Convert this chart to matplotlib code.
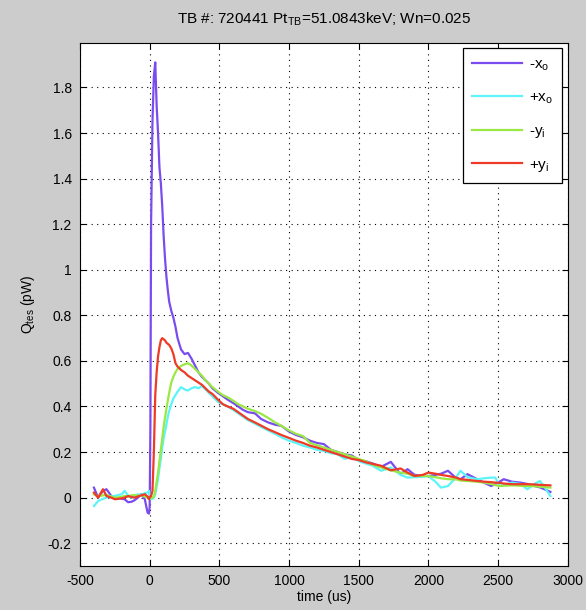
import matplotlib
matplotlib.use("Agg")
import matplotlib.pyplot as plt

# time axis (us), shared by all four traces
time_us = [
    -400, -370, -335, -310, -275, -250, -200, -180, -155, -130,
    -110, -85, -60, -35, -15, -5, 0, 5, 10, 20,
    30, 40, 50, 60, 70, 80, 90, 100, 110, 120,
    130, 140, 155, 170, 185, 200, 225, 250, 275, 300,
    325, 350, 375, 400, 425, 450, 490, 525, 560, 600,
    635, 670, 705, 755, 800, 850, 900, 945, 1000, 1050,
    1100, 1150, 1200, 1250, 1300, 1350, 1400, 1450, 1500, 1550,
    1600, 1660, 1730, 1800, 1850, 1900, 1960, 2000, 2050, 2090,
    2140, 2200, 2230, 2280, 2350, 2400, 2450, 2480, 2510, 2540,
    2600, 2660, 2710, 2760, 2800, 2840, 2875,
]

q_minus_xo = [
    0.044, 0.0, 0.03, 0.037, 0.007, 0.0, -0.005, -0.007, -0.02, -0.018,
    -0.012, 0.0, 0.015, -0.007, -0.066, -0.07, -0.04, 0.3, 1.2, 1.65,
    1.85, 1.91, 1.72, 1.6, 1.45, 1.38, 1.28, 1.15, 1.05, 0.97,
    0.91, 0.86, 0.82, 0.79, 0.75, 0.70, 0.65, 0.63, 0.635, 0.61,
    0.58, 0.55, 0.53, 0.515, 0.50, 0.48, 0.46, 0.445, 0.43, 0.415,
    0.40, 0.385, 0.375, 0.37, 0.345, 0.33, 0.32, 0.315, 0.29, 0.275,
    0.265, 0.25, 0.24, 0.235, 0.21, 0.20, 0.19, 0.185, 0.165, 0.16,
    0.15, 0.135, 0.157, 0.103, 0.125, 0.10, 0.095, 0.095, 0.10, 0.105,
    0.118, 0.085, 0.081, 0.103, 0.081, 0.065, 0.051, 0.06, 0.07, 0.081,
    0.07, 0.066, 0.06, 0.051, 0.045, 0.035, 0.025,
]

q_plus_xo = [
    -0.037, -0.015, -0.005, 0.0, 0.005, 0.008, 0.015, 0.03, 0.01, 0.0,
    0.005, 0.015, 0.012, 0.02, 0.022, 0.03, 0.015, 0.005, -0.007, -0.005,
    0.0, 0.015, 0.05, 0.08, 0.13, 0.17, 0.22, 0.26, 0.29, 0.32,
    0.355, 0.38, 0.41, 0.435, 0.45, 0.465, 0.485, 0.475, 0.47, 0.48,
    0.485, 0.48, 0.49, 0.475, 0.46, 0.445, 0.42, 0.41, 0.40, 0.385,
    0.37, 0.355, 0.34, 0.325, 0.31, 0.295, 0.28, 0.265, 0.25, 0.24,
    0.228, 0.22, 0.21, 0.205, 0.195, 0.19, 0.17, 0.18, 0.16, 0.15,
    0.14, 0.118, 0.132, 0.10, 0.088, 0.09, 0.092, 0.095, 0.07, 0.044,
    0.051, 0.09, 0.118, 0.09, 0.081, 0.085, 0.088, 0.088, 0.051, 0.055,
    0.066, 0.06, 0.037, 0.06, 0.073, 0.04, 0.007,
]

q_minus_yi = [
    0.015, 0.005, 0.01, 0.012, 0.005, 0.0, 0.003, 0.008, 0.005, 0.01,
    0.012, 0.008, 0.01, 0.005, 0.0, 0.002, 0.0, -0.003, 0.0, 0.0,
    0.005, 0.03, 0.07, 0.11, 0.16, 0.21, 0.26, 0.31, 0.35, 0.39,
    0.425, 0.46, 0.505, 0.53, 0.55, 0.565, 0.578, 0.585, 0.59, 0.58,
    0.565, 0.55, 0.535, 0.515, 0.50, 0.485, 0.465, 0.45, 0.44, 0.425,
    0.41, 0.40, 0.39, 0.38, 0.368, 0.35, 0.33, 0.315, 0.295, 0.28,
    0.27, 0.24, 0.23, 0.22, 0.21, 0.20, 0.19, 0.18, 0.17, 0.16,
    0.145, 0.132, 0.12, 0.11, 0.105, 0.095, 0.095, 0.095, 0.09, 0.085,
    0.081, 0.08, 0.075, 0.073, 0.07, 0.066, 0.06, 0.055, 0.051, 0.052,
    0.054, 0.052, 0.051, 0.05, 0.048, 0.046, 0.044,
]

q_plus_yi = [
    0.022, 0.0, 0.037, 0.007, 0.0, -0.007, -0.003, 0.0, 0.007, 0.003,
    0.0, 0.005, 0.01, 0.015, 0.005, -0.007, 0.0, 0.005, 0.007, 0.03,
    0.2, 0.45, 0.55, 0.62, 0.66, 0.69, 0.70, 0.695, 0.69, 0.68,
    0.675, 0.67, 0.655, 0.63, 0.59, 0.575, 0.56, 0.55, 0.535, 0.525,
    0.515, 0.505, 0.495, 0.48, 0.465, 0.455, 0.43, 0.41, 0.40, 0.39,
    0.375, 0.36, 0.345, 0.33, 0.316, 0.30, 0.287, 0.275, 0.262, 0.25,
    0.24, 0.228, 0.22, 0.21, 0.20, 0.19, 0.18, 0.17, 0.165, 0.155,
    0.148, 0.14, 0.12, 0.128, 0.11, 0.095, 0.10, 0.11, 0.105, 0.10,
    0.095, 0.088, 0.081, 0.078, 0.073, 0.07, 0.068, 0.066, 0.065, 0.062,
    0.059, 0.059, 0.059, 0.058, 0.056, 0.055, 0.054,
]

labels = ['-x$_\\mathregular{o}$', '+x$_\\mathregular{o}$',
          '-y$_\\mathregular{i}$', '+y$_\\mathregular{i}$']
colors = ['#7a4cf0', '#5cf4f8', '#9ae844', '#ee3a26']

x_ticks = [-500, 0, 500, 1000, 1500, 2000, 2500, 3000]
y_ticks = [-0.2, 0, 0.2, 0.4, 0.6, 0.8, 1, 1.2, 1.4, 1.6, 1.8]
y_ticklabels = ['-0.2', '0', '0.2', '0.4', '0.6', '0.8', '1', '1.2', '1.4', '1.6', '1.8']
x_ticklabels = [str(v) for v in x_ticks]

plt.rcParams['font.family'] = ['Liberation Sans', 'DejaVu Sans']
plt.rcParams['font.size'] = 10

fig = plt.figure(figsize=(5.86, 6.10), dpi=100, facecolor='#cccccc')
ax = fig.add_axes([0.1365, 0.0721, 0.8325, 0.8574])

series = [q_minus_xo, q_plus_xo, q_minus_yi, q_plus_yi]
for q, lab, col in zip(series, labels, colors):
    ax.plot(time_us, q, color=col, lw=1.6, label=lab)

ax.set_xlim(-500, 3000)
ax.set_ylim(-0.3, 1.995)
ax.set_xticks(x_ticks)
ax.set_xticklabels(x_ticklabels)
ax.set_yticks(y_ticks)
ax.set_yticklabels(y_ticklabels)
ax.tick_params(direction='in', top=True, right=True, length=4, width=0.8,
               colors='black', labelsize=10, pad=6)
ax.grid(True, color='black', linestyle=(0, (1, 4)), linewidth=0.8)
for sp in ax.spines.values():
    sp.set_linewidth(0.8)

ax.set_xlabel('time (us)', labelpad=1)
ax.set_ylabel('Q$_\\mathregular{tes}$ (pW)', labelpad=8)
ax.set_title('TB #: 720441 Pt$_\\mathregular{TB}$=51.0843keV; Wn=0.025', fontsize=11, pad=14)

leg = ax.legend(loc='upper right', fancybox=False, edgecolor='black', framealpha=1,
                labelspacing=1.15, handlelength=3.3, handletextpad=0.45,
                borderaxespad=0.35, fontsize=11, borderpad=0.6)
leg.get_frame().set_linewidth(0.9)

fig.savefig('out.png', dpi=100, facecolor=fig.get_facecolor())
